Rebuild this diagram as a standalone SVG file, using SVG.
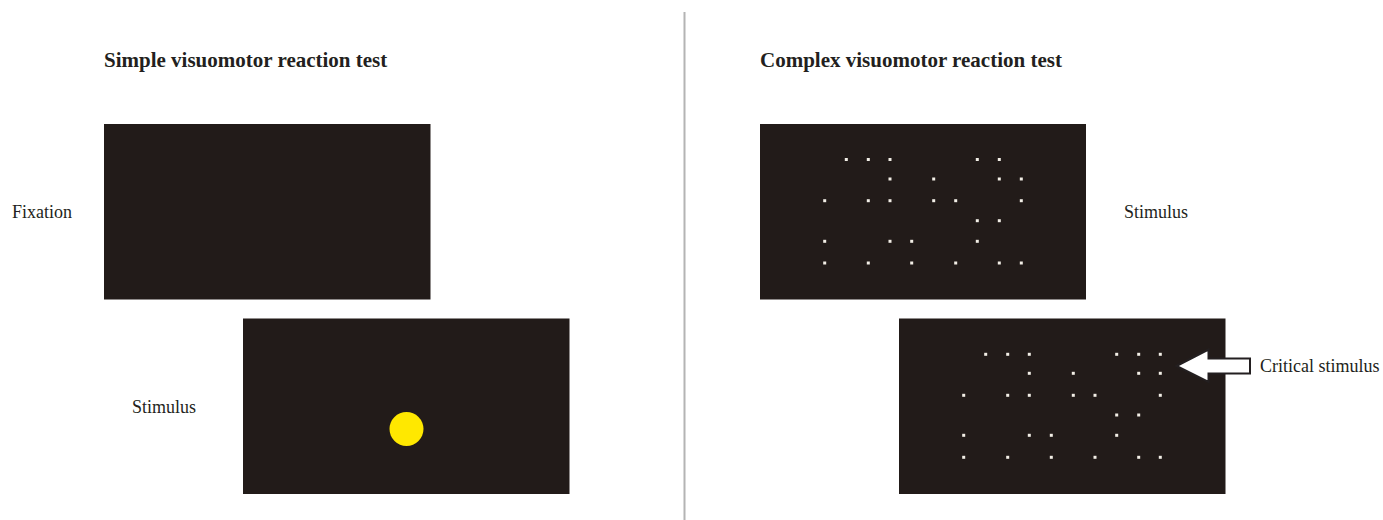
<svg xmlns="http://www.w3.org/2000/svg" width="1383" height="520" viewBox="0 0 1383 520">
<style>
.panel{fill:#221b19}
.dot{fill:#f2eee6}
.lbl{font-family:"Liberation Serif","Times New Roman",serif;font-size:18px;fill:#231f20}
.title{font-family:"Liberation Serif","Times New Roman",serif;font-size:21px;font-weight:bold;fill:#231f20}
</style>
<rect x="0" y="0" width="1383" height="520" fill="#ffffff"/>
<line x1="684.5" y1="12" x2="684.5" y2="520" stroke="#b4b4b4" stroke-width="2"/>

<g id="simple-title"><text class="title" x="104" y="67">Simple visuomotor reaction test</text></g>
<g id="complex-title"><text class="title" x="760" y="67">Complex visuomotor reaction test</text></g>

<g id="fixation">
<rect class="panel" x="104" y="124" width="326.5" height="175.5"/>
<text class="lbl" x="12" y="218">Fixation</text>
</g>

<g id="simple-stimulus">
<rect class="panel" x="243" y="318.5" width="326.5" height="175.5"/>
<circle cx="406.5" cy="429" r="17" fill="#ffe800"/>
<text class="lbl" x="132" y="413">Stimulus</text>
</g>

<g id="complex-stimulus">
<rect class="panel" x="760" y="124" width="326" height="175.5"/>
<g transform="translate(-1.5 -1.5)">
<rect class="dot" x="846.3" y="159.5" width="3" height="3"/>
<rect class="dot" x="868.3" y="159.5" width="3" height="3"/>
<rect class="dot" x="890" y="159.5" width="3" height="3"/>
<rect class="dot" x="977.3" y="159.5" width="3" height="3"/>
<rect class="dot" x="999.3" y="159.5" width="3" height="3"/>
<rect class="dot" x="890" y="179" width="3" height="3"/>
<rect class="dot" x="933.7" y="179" width="3" height="3"/>
<rect class="dot" x="999.3" y="179" width="3" height="3"/>
<rect class="dot" x="1021.3" y="179" width="3" height="3"/>
<rect class="dot" x="824.7" y="200.7" width="3" height="3"/>
<rect class="dot" x="868.3" y="200.7" width="3" height="3"/>
<rect class="dot" x="890" y="200.7" width="3" height="3"/>
<rect class="dot" x="933.7" y="200.7" width="3" height="3"/>
<rect class="dot" x="955.7" y="200.7" width="3" height="3"/>
<rect class="dot" x="1021.3" y="200.7" width="3" height="3"/>
<rect class="dot" x="977.3" y="220.7" width="3" height="3"/>
<rect class="dot" x="999.3" y="220.7" width="3" height="3"/>
<rect class="dot" x="824.7" y="241.3" width="3" height="3"/>
<rect class="dot" x="890" y="241.3" width="3" height="3"/>
<rect class="dot" x="911.7" y="241.3" width="3" height="3"/>
<rect class="dot" x="977.3" y="241.3" width="3" height="3"/>
<rect class="dot" x="824.7" y="263" width="3" height="3"/>
<rect class="dot" x="868.3" y="263" width="3" height="3"/>
<rect class="dot" x="911.7" y="263" width="3" height="3"/>
<rect class="dot" x="955.7" y="263" width="3" height="3"/>
<rect class="dot" x="999.3" y="263" width="3" height="3"/>
<rect class="dot" x="1021.3" y="263" width="3" height="3"/>
</g>
<text class="lbl" x="1124" y="218">Stimulus</text>
</g>

<g id="critical-stimulus">
<rect class="panel" x="899" y="318.5" width="326.5" height="175.5"/>
<g transform="translate(-1.5 -1.5)">
<rect class="dot" x="985.7" y="354.3" width="3" height="3"/>
<rect class="dot" x="1007.7" y="354.3" width="3" height="3"/>
<rect class="dot" x="1029.3" y="354.3" width="3" height="3"/>
<rect class="dot" x="1116.7" y="354.3" width="3" height="3"/>
<rect class="dot" x="1138.7" y="354.3" width="3" height="3"/>
<rect class="dot" x="1160.3" y="354.3" width="3" height="3"/>
<rect class="dot" x="1029.3" y="373.3" width="3" height="3"/>
<rect class="dot" x="1073.3" y="373.3" width="3" height="3"/>
<rect class="dot" x="1138.7" y="373.3" width="3" height="3"/>
<rect class="dot" x="1160.3" y="373.3" width="3" height="3"/>
<rect class="dot" x="963.7" y="395.3" width="3" height="3"/>
<rect class="dot" x="1007.7" y="395.3" width="3" height="3"/>
<rect class="dot" x="1029.3" y="395.3" width="3" height="3"/>
<rect class="dot" x="1073.3" y="395.3" width="3" height="3"/>
<rect class="dot" x="1095" y="395.3" width="3" height="3"/>
<rect class="dot" x="1160.3" y="395.3" width="3" height="3"/>
<rect class="dot" x="1116.7" y="415" width="3" height="3"/>
<rect class="dot" x="1138.7" y="415" width="3" height="3"/>
<rect class="dot" x="963.7" y="435.3" width="3" height="3"/>
<rect class="dot" x="1029.3" y="435.3" width="3" height="3"/>
<rect class="dot" x="1051.3" y="435.3" width="3" height="3"/>
<rect class="dot" x="1116.7" y="435.3" width="3" height="3"/>
<rect class="dot" x="963.7" y="457.3" width="3" height="3"/>
<rect class="dot" x="1007.7" y="457.3" width="3" height="3"/>
<rect class="dot" x="1051.3" y="457.3" width="3" height="3"/>
<rect class="dot" x="1095" y="457.3" width="3" height="3"/>
<rect class="dot" x="1138.7" y="457.3" width="3" height="3"/>
<rect class="dot" x="1160.3" y="457.3" width="3" height="3"/>
</g>
<text class="lbl" x="1260" y="372">Critical stimulus</text>
</g>

<g id="connectors">
<polygon points="1176.5,366 1208.5,349.5 1208.5,358.5 1250,358.5 1250,373.5 1208.5,373.5 1208.5,382" fill="#ffffff" stroke="#231f20" stroke-width="2" stroke-linejoin="miter"/>
</g>
</svg>
